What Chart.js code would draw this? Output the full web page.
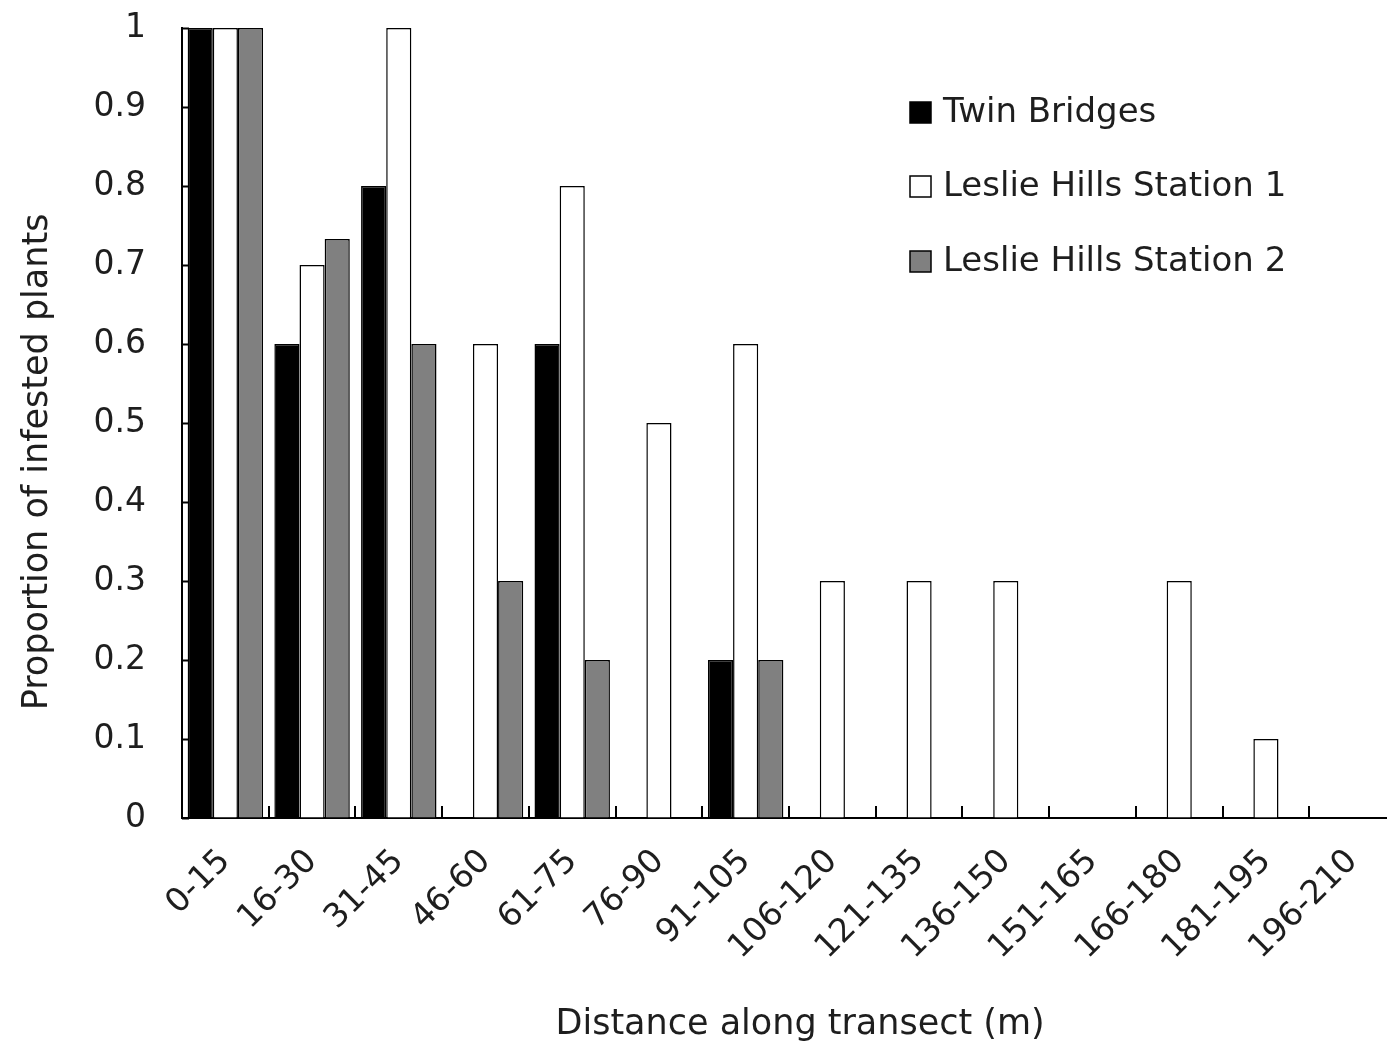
<!DOCTYPE html>
<html>
<head>
<meta charset="utf-8">
<script src="https://cdn.jsdelivr.net/npm/chart.js@4/dist/chart.umd.min.js"></script>
<style>
html,body{margin:0;padding:0;background:#fff;overflow:hidden;width:1387px;height:1046px;}
#wrap{width:1387px;height:1046px;overflow:hidden;position:relative;}
#c{position:absolute;left:0;top:0;}
</style>
</head>
<body>
<div id="wrap"><canvas id="c" width="1396" height="1046"></canvas></div>
<script>
const categories = ["0-15","16-30","31-45","46-60","61-75","76-90","91-105","106-120","121-135","136-150","151-165","166-180","181-195","196-210"];
const twinBridges = [1, 0.6, 0.8, 0, 0.6, 0, 0.2, 0, 0, 0, 0, 0, 0, 0];
const leslieHills1 = [1, 0.7, 1, 0.6, 0.8, 0.5, 0.6, 0.3, 0.3, 0.3, 0, 0.3, 0.1, 0];
const leslieHills2 = [1, 0.733, 0.6, 0.3, 0.2, 0, 0.2, 0, 0, 0, 0, 0, 0, 0];
const seriesNames = ["Twin Bridges", "Leslie Hills Station 1", "Leslie Hills Station 2"];
const yTickValues = [0, 0.1, 0.2, 0.3, 0.4, 0.5, 0.6, 0.7, 0.8, 0.9, 1];
const xTitle = 'Distance along transect (m)';
const yTitle = 'Proportion of infested plants';

const FONT = "'DejaVu Sans', 'Liberation Sans', Arial, sans-serif";
const TXT = '#1e1e1e';

const innerTicks = {
  id: 'innerTicks',
  afterDraw(chart) {
    const ctx = chart.ctx;
    const x = chart.scales.x, y = chart.scales.y;
    const area = chart.chartArea;
    ctx.save();
    ctx.strokeStyle = '#000';
    ctx.lineWidth = 2;
    yTickValues.forEach(v => {
      const py = Math.round(y.getPixelForValue(v)) + 0.5;
      ctx.beginPath();
      ctx.moveTo(area.left, py);
      ctx.lineTo(area.left + 7, py);
      ctx.stroke();
    });
    const n = categories.length;
    for (let i = 1; i < n; i++) {
      const px = Math.round((x.getPixelForValue(i - 1) + x.getPixelForValue(i)) / 2);
      ctx.beginPath();
      ctx.moveTo(px, area.bottom);
      ctx.lineTo(px, area.bottom - 12);
      ctx.stroke();
    }
    ctx.restore();
  }
};

const customLegend = {
  id: 'customLegend',
  afterDraw(chart) {
    const ctx = chart.ctx;
    const area = chart.chartArea;
    const bx = area.left + 728;
    const rows = [112, 186, 261];
    ctx.save();
    ctx.font = "34px " + FONT;
    ctx.textBaseline = 'middle';
    ctx.textAlign = 'left';
    chart.data.datasets.forEach((ds, i) => {
      const cy = rows[i];
      ctx.fillStyle = ds.backgroundColor;
      ctx.fillRect(bx, cy - 10, 21, 21);
      ctx.strokeStyle = '#000';
      ctx.lineWidth = 1.5;
      ctx.strokeRect(bx, cy - 10, 21, 21);
      ctx.fillStyle = TXT;
      ctx.fillText(ds.label, bx + 33, cy + 1);
    });
    ctx.restore();
  }
};

new Chart(document.getElementById('c'), {
  type: 'bar',
  data: {
    labels: categories,
    datasets: [
      { label: seriesNames[0], data: twinBridges, backgroundColor: '#000000', borderColor: '#000', borderWidth: 1.5 },
      { label: seriesNames[1], data: leslieHills1, backgroundColor: '#ffffff', borderColor: '#000', borderWidth: 1.5 },
      { label: seriesNames[2], data: leslieHills2, backgroundColor: '#808080', borderColor: '#000', borderWidth: 1.5 }
    ]
  },
  options: {
    responsive: false,
    devicePixelRatio: 1,
    animation: false,
    layout: { padding: { top: 28, right: 0, left: 0, bottom: 0 } },
    datasets: { bar: { barPercentage: 1.0, categoryPercentage: 0.87 } },
    plugins: {
      legend: { display: false },
      tooltip: { enabled: false }
    },
    scales: {
      x: {
        grid: { display: true, drawOnChartArea: false, drawTicks: false },
        border: { display: true, color: '#000', width: 2 },
        ticks: {
          color: TXT,
          font: { family: FONT, size: 33 },
          minRotation: 45,
          maxRotation: 45,
          padding: 24,
          autoSkip: false
        },
        title: {
          display: true,
          text: '  ' + xTitle,
          color: TXT,
          font: { family: FONT, size: 35 },
          padding: { top: 0, bottom: 0 }
        },
        afterFit(scale) {
          scale.height = 228;
          scale.paddingLeft = 0; scale.paddingRight = 0;
          scale.paddingTop = 0; scale.paddingBottom = 0;
        }
      },
      y: {
        min: 0,
        max: 1,
        afterBuildTicks(scale) { scale.ticks = yTickValues.map(v => ({ value: v })); },
        grid: { display: true, drawOnChartArea: false, drawTicks: false },
        border: { display: true, color: '#000', width: 2 },
        ticks: {
          color: TXT,
          font: { family: FONT, size: 33 },
          padding: 36,
          callback: (v) => String(Number(Number(v).toFixed(1)))
        },
        title: {
          display: true,
          text: yTitle + '       ',
          color: TXT,
          font: { family: FONT, size: 35 },
          padding: { top: 17, bottom: 0 }
        },
        afterFit(scale) {
          scale.width = 182;
          scale.paddingTop = 0; scale.paddingBottom = 0;
          scale.paddingLeft = 0; scale.paddingRight = 0;
        }
      }
    }
  },
  plugins: [innerTicks, customLegend]
});
</script>
</body>
</html>
